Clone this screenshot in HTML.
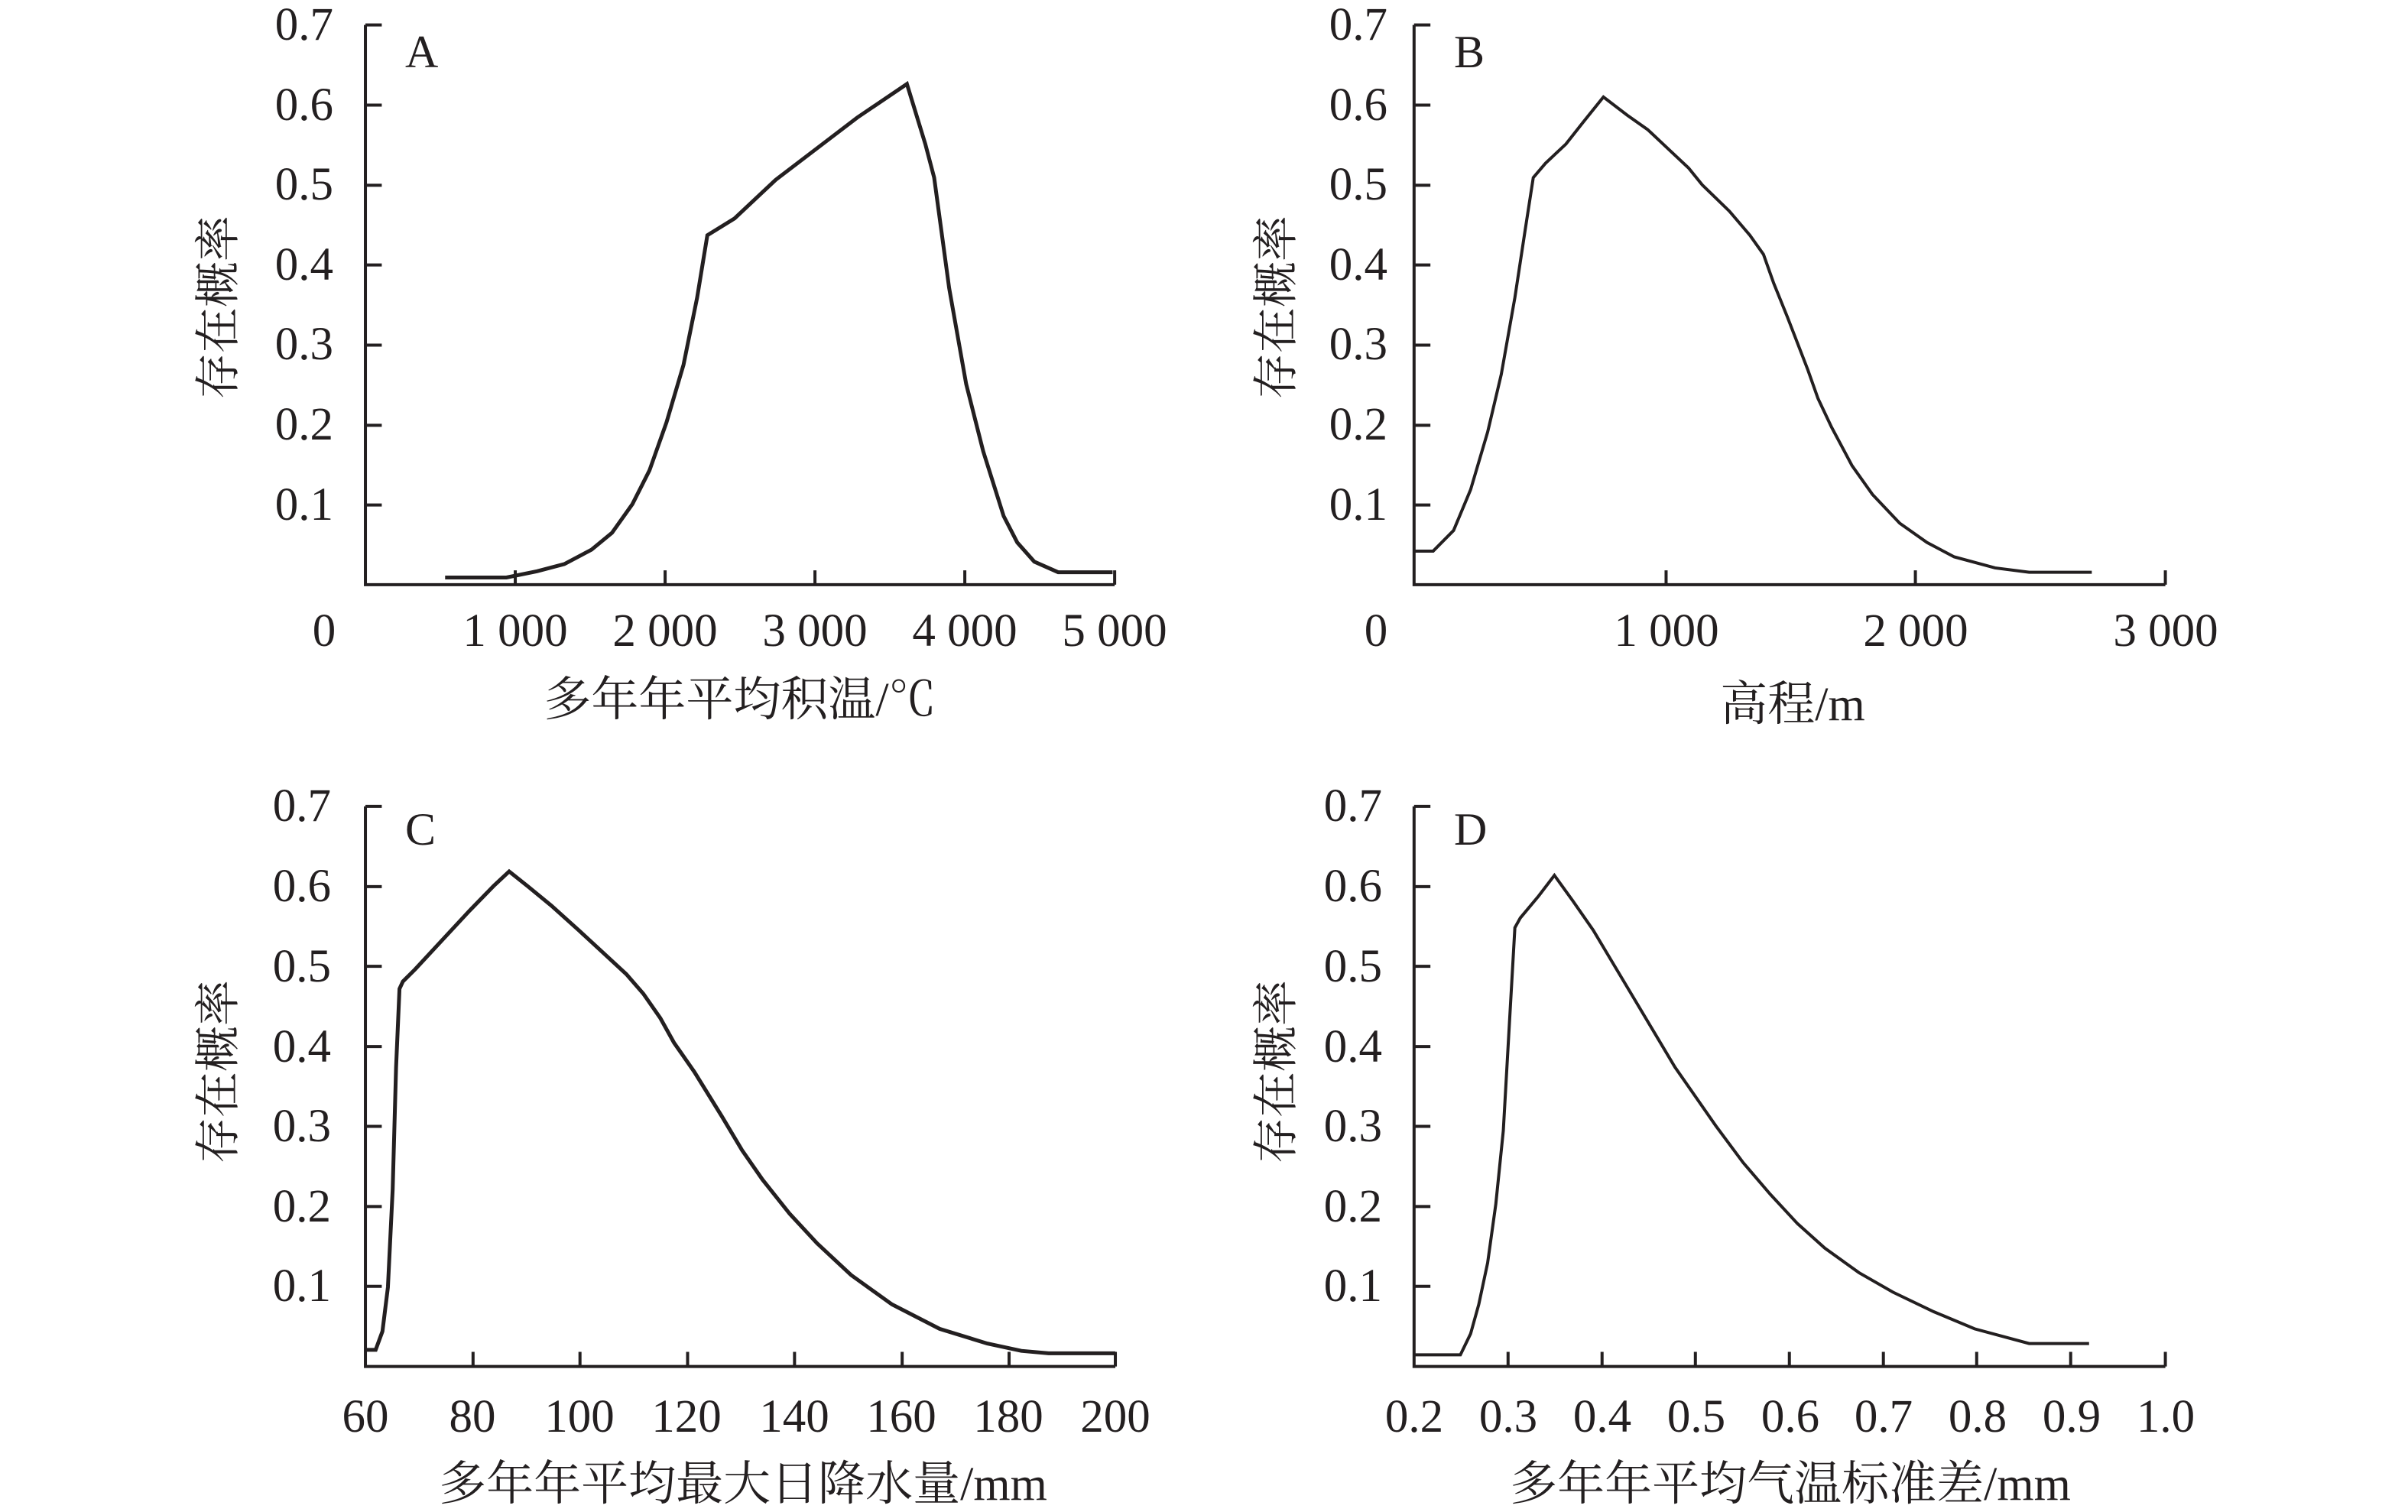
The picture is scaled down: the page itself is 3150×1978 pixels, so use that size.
<!DOCTYPE html>
<html><head><meta charset="utf-8"><style>
html,body{margin:0;padding:0;background:#fff}
svg{display:block}
text{font-family:"Liberation Serif","Noto Serif CJK SC",serif;fill:#231f20}
.t{font-size:61px}
.c{font-size:60px;font-family:"Liberation Serif","Noto Serif CJK SC",serif}
.x{font-size:62px}
path,line{vector-effect:non-scaling-stroke;fill:none;stroke:#231f20}
</style></head><body>
<svg width="3150" height="1978" viewBox="0 0 3150 1978" xmlns="http://www.w3.org/2000/svg">
<!-- Panel A -->
<g transform="translate(203.6,0) scale(0.891,0.628)">
<path d="M308,52 V1218 H1408" stroke-width="4"/>
<path d="M308,52 h24 M308,219 h24 M308,386 h24 M308,552 h24 M308,719 h24 M308,886 h24 M308,1052 h24 M528,1218 v-30 M748,1218 v-30 M968,1218 v-30 M1188,1218 v-30 M1408,1218 v-30" stroke-width="4"/>
<path d="M425,1203 L515,1203 560,1190 600,1175 640,1145 670,1110 700,1050 725,980 750,880 775,760 795,620 810,490 850,455 910,375 970,310 1030,245 1103,175 1130,300 1143,370 1165,600 1190,800 1215,940 1245,1075 1265,1130 1290,1170 1325,1192 1405,1192" stroke-width="5"/>
</g>
<g class="t" text-anchor="end">
<text x="436" y="52">0.7</text><text x="436" y="157">0.6</text><text x="436" y="261">0.5</text><text x="436" y="366">0.4</text><text x="436" y="470">0.3</text><text x="436" y="575">0.2</text><text x="436" y="680">0.1</text>
</g>
<g class="t" text-anchor="middle">
<text x="424" y="845">0</text><text x="674" y="845">1 000</text><text x="870" y="845">2 000</text><text x="1066" y="845">3 000</text><text x="1262" y="845">4 000</text><text x="1458" y="845">5 000</text>
</g>
<text class="c" x="530" y="88">A</text>
<text class="c x" x="968" y="936" text-anchor="middle">多年年平均积温/℃</text>
<text class="c" transform="translate(306,402) rotate(-90)" text-anchor="middle">存在概率</text>

<!-- Panel B -->
<g transform="translate(1603,0) scale(0.891,0.628)">
<path d="M277,52 V1218 H1380" stroke-width="4"/>
<path d="M277,52 h24 M277,219 h24 M277,386 h24 M277,552 h24 M277,719 h24 M277,886 h24 M277,1052 h24 M647,1218 v-30 M1013,1218 v-30 M1380,1218 v-30" stroke-width="4"/>
<path d="M277,1148 L305,1148 335,1105 360,1020 385,900 405,780 425,620 440,480 452,370 470,340 500,300 525,255 555,202 590,240 620,270 650,310 680,350 700,385 740,440 770,490 790,530 805,590 825,660 855,770 870,830 890,890 920,970 950,1030 990,1090 1030,1130 1070,1160 1130,1183 1180,1192 1272,1192" stroke-width="4"/>
</g>
<g class="t" text-anchor="end">
<text x="1815" y="52">0.7</text><text x="1815" y="157">0.6</text><text x="1815" y="261">0.5</text><text x="1815" y="366">0.4</text><text x="1815" y="470">0.3</text><text x="1815" y="575">0.2</text><text x="1815" y="680">0.1</text>
</g>
<g class="t" text-anchor="middle">
<text x="1800" y="845">0</text><text x="2180" y="845">1 000</text><text x="2506" y="845">2 000</text><text x="2833" y="845">3 000</text>
</g>
<text class="c" x="1902" y="88">B</text>
<text class="c x" x="2345" y="942" text-anchor="middle">高程/m</text>
<text class="c" transform="translate(1690,402) rotate(-90)" text-anchor="middle">存在概率</text>

<!-- Panel C -->
<g transform="translate(204.5,980) scale(0.891,0.64)">
<path d="M307,117 V1262 H1408" stroke-width="4"/>
<path d="M307,117 h24 M307,281 h24 M307,444 h24 M307,608 h24 M307,771 h24 M307,935 h24 M307,1098 h24 M465,1262 v-30 M622,1262 v-30 M780,1262 v-30 M937,1262 v-30 M1095,1262 v-30 M1252,1262 v-30 M1408,1262 v-30" stroke-width="4"/>
<path d="M307,1228 L322,1228 332,1190 340,1100 347,900 352,650 357,490 362,475 380,450 420,390 460,330 495,280 518,250 545,280 580,320 620,370 655,415 690,460 715,500 740,550 760,600 790,660 830,750 860,820 890,880 930,950 970,1010 1020,1075 1080,1135 1150,1185 1220,1215 1270,1230 1310,1235 1408,1235" stroke-width="5"/>
</g>
<g class="t" text-anchor="end">
<text x="433" y="1074">0.7</text><text x="433" y="1179">0.6</text><text x="433" y="1284">0.5</text><text x="433" y="1389">0.4</text><text x="433" y="1493">0.3</text><text x="433" y="1598">0.2</text><text x="433" y="1702">0.1</text>
</g>
<g class="t" text-anchor="middle">
<text x="478" y="1873">60</text><text x="618" y="1873">80</text><text x="758" y="1873">100</text><text x="898" y="1873">120</text><text x="1039" y="1873">140</text><text x="1179" y="1873">160</text><text x="1319" y="1873">180</text><text x="1459" y="1873">200</text>
</g>
<text class="c" x="530" y="1105">C</text>
<text class="c x" x="972" y="1962" text-anchor="middle">多年年平均最大日降水量/mm</text>
<text class="c" transform="translate(306,1402) rotate(-90)" text-anchor="middle">存在概率</text>

<!-- Panel D -->
<g transform="translate(1603,980) scale(0.891,0.64)">
<path d="M277,117 V1262 H1380" stroke-width="4"/>
<path d="M277,117 h24 M277,281 h24 M277,444 h24 M277,608 h24 M277,771 h24 M277,935 h24 M277,1098 h24 M415,1262 v-30 M553,1262 v-30 M690,1262 v-30 M828,1262 v-30 M966,1262 v-30 M1103,1262 v-30 M1241,1262 v-30 M1380,1262 v-30" stroke-width="4"/>
<path d="M277,1238 L345,1238 360,1195 372,1135 385,1050 397,930 408,780 417,560 425,365 433,345 460,300 483,258 510,310 540,370 570,440 600,510 630,580 660,650 690,710 720,770 760,845 800,910 840,970 880,1020 930,1070 980,1110 1040,1150 1100,1185 1180,1215 1268,1215" stroke-width="4"/>
</g>
<g class="t" text-anchor="end">
<text x="1808" y="1074">0.7</text><text x="1808" y="1179">0.6</text><text x="1808" y="1284">0.5</text><text x="1808" y="1389">0.4</text><text x="1808" y="1493">0.3</text><text x="1808" y="1598">0.2</text><text x="1808" y="1702">0.1</text>
</g>
<g class="t" text-anchor="middle">
<text x="1850" y="1873">0.2</text><text x="1973" y="1873">0.3</text><text x="2096" y="1873">0.4</text><text x="2219" y="1873">0.5</text><text x="2342" y="1873">0.6</text><text x="2464" y="1873">0.7</text><text x="2587" y="1873">0.8</text><text x="2710" y="1873">0.9</text><text x="2833" y="1873">1.0</text>
</g>
<text class="c" x="1902" y="1105">D</text>
<text class="c x" x="2342" y="1962" text-anchor="middle">多年年平均气温标准差/mm</text>
<text class="c" transform="translate(1690,1402) rotate(-90)" text-anchor="middle">存在概率</text>
</svg>
</body></html>
